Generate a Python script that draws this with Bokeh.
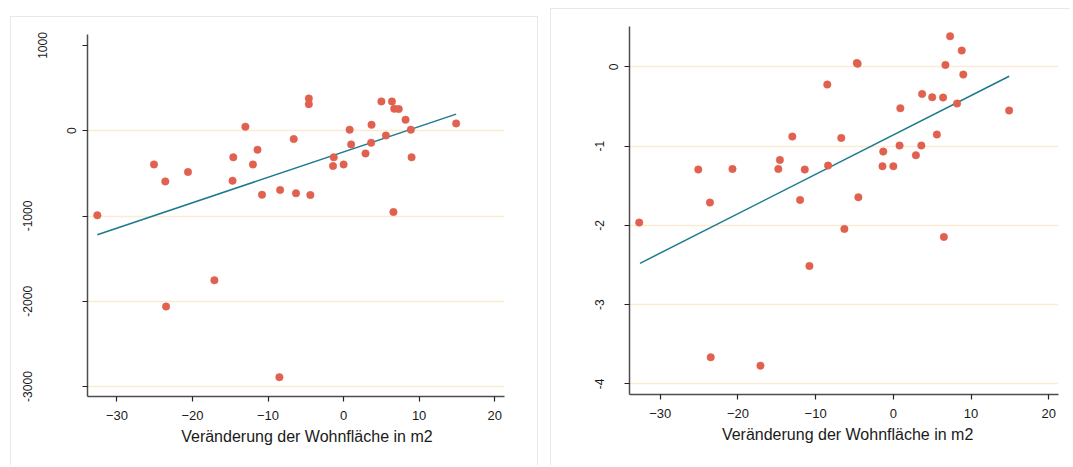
from bokeh.plotting import figure
from bokeh.layouts import row
from bokeh.models import FixedTicker, Range1d, Title
from bokeh.embed import file_html
from bokeh.resources import INLINE

# ---- data ----
x_left = [-32.6, -25.1, -23.6, -23.5, -20.6, -17.1, -14.7, -14.6, -13.0, -12.0,
          -11.4, -10.8, -8.5, -8.4, -6.6, -6.3, -4.6, -4.6, -4.4, -1.4,
          -1.3, 0.0, 0.8, 1.0, 2.9, 3.65, 3.7, 5.0, 5.6, 6.4,
          6.6, 6.7, 7.3, 8.2, 8.9, 9.0, 14.9]
y_left = [-992, -395, -594, -2062, -484, -1754, -586, -312, 47, -395,
          -223, -750, -2890, -695, -98, -734, 379, 312, -754, -414,
          -312, -395, 12, -160, -266, -141, 70, 344, -55, 344,
          -953, 258, 254, 129, 12, -312, 86]
x_right = [-32.7, -25.1, -23.6, -23.5, -20.7, -17.1, -14.8, -14.6, -13.0, -12.0,
           -11.4, -10.8, -8.5, -8.4, -6.7, -6.3, -4.7, -4.6, -4.5, -1.4,
           -1.3, 0.0, 0.8, 0.9, 2.9, 3.6, 3.7, 5.0, 5.6, 6.4,
           6.5, 6.7, 7.3, 8.2, 8.8, 9.0, 14.9]
y_right = [-1.965, -1.296, -1.713, -3.666, -1.288, -3.771, -1.288, -1.174, -0.880, -1.679,
           -1.296, -2.513, -0.223, -1.246, -0.896, -2.045, 0.05, 0.04, -1.646, -1.254,
           -1.069, -1.254, -0.993, -0.522, -1.115, -0.993, -0.341, -0.383, -0.854, -0.387,
           -2.146, 0.025, 0.387, -0.463, 0.206, -0.097, -0.551]

fit_x = [-32.6, 14.9]
fit_left = [-1219, 195]
fit_right = [-2.479, -0.118]

x_ticks = [-30, -20, -10, 0, 10, 20]
left_y_ticks = [-3000, -2000, -1000, 0, 1000]
left_grid = [-3000, -2000, -1000, 0]
right_y_ticks = [-4, -3, -2, -1, 0]
right_grid = [-4, -3, -2, -1, 0]
x_title = "Veränderung der Wohnfläche in m2"

# ---- styles ----
FONT = "Liberation Sans"
DOT = "#E0614F"
LINE = "#1B7A8E"
GRID = "#FCEBD2"
BOX = "#E2EAEE"
TXT = "#1a1a1a"
PAD = "\n\u00a0"   # blank rotated line: pushes longer labels away from the axis (Stata style)


def make_panel(width, height, margin, bl, top, frame_w, frame_h, xr, yr, yticks, grid,
               xs, ys, fy, title_off, shadow, pads, lh, ystand):
    p = figure(width=width, height=height, output_backend="svg", toolbar_location=None,
               x_range=Range1d(*xr), y_range=Range1d(*yr),
               frame_width=frame_w, frame_height=frame_h,
               min_border_left=bl, min_border_top=top,
               min_border_right=width - bl - frame_w,
               min_border_bottom=height - top - frame_h,
               margin=margin, styles={"box-shadow": shadow})
    p.outline_line_color = None
    p.background_fill_color = None
    p.border_fill_color = None
    p.xgrid.visible = False
    p.ygrid.ticker = FixedTicker(ticks=grid)
    p.ygrid.grid_line_color = GRID
    p.ygrid.grid_line_width = 1.5

    for ax in (p.xaxis[0], p.yaxis[0]):
        ax.axis_line_color = "#4d4d4d"
        ax.axis_line_width = 1.5
        ax.major_tick_line_color = "#222222"
        ax.major_tick_line_width = 1.2
        ax.major_tick_out = 5
        ax.major_tick_in = 0
        ax.minor_tick_line_color = None
    p.xaxis.ticker = FixedTicker(ticks=x_ticks)
    p.xaxis.major_label_text_font = FONT
    p.xaxis.major_label_text_font_size = "13px"
    p.xaxis.major_label_text_color = TXT
    p.xaxis.major_label_standoff = 9

    p.yaxis.ticker = FixedTicker(ticks=yticks)
    p.yaxis.major_label_orientation = "vertical"
    p.yaxis.major_label_text_font = FONT
    p.yaxis.major_label_text_font_size = "12px"
    p.yaxis.major_label_text_color = TXT
    p.yaxis.major_label_text_line_height = lh
    p.yaxis.major_label_standoff = ystand
    p.yaxis.major_label_overrides = {v: str(v) + PAD * n for v, n in zip(yticks, pads)}

    t = Title(text=x_title, align="left", offset=title_off, standoff=6,
              text_font=FONT, text_font_size="16px", text_font_style="normal",
              text_color=TXT)
    p.add_layout(t, "below")

    p.line(fit_x, fy, line_color=LINE, line_width=1.5)
    p.scatter(xs, ys, size=7.5, fill_color=DOT, line_color=DOT, line_width=0.5)
    return p


left = make_panel(528, 449, (16, 12, 0, 10), 77, 17, 417, 362,
                  (-33.9, 21.3), (-3117, 1129), left_y_ticks, left_grid,
                  x_left, y_left, fit_left, 93.7,
                  f"inset 1px 1px 0 0 {BOX}, inset -1px 0 0 0 {BOX}",
                  [3, 3, 3, 0, 2], 1.07, 3)
right = make_panel(520, 457, (8, 0, 0, 0), 79, 18, 429, 368,
                   (-33.95, 21.25), (-4.135, 0.51), right_y_ticks, right_grid,
                   x_right, y_right, fit_right, 92.4,
                   f"inset 1px 1px 0 0 {BOX}",
                   [1, 1, 1, 1, 0], 1.0, 3)

layout = row(left, right, spacing=0)
open("out.html", "w").write(file_html(layout, INLINE))
